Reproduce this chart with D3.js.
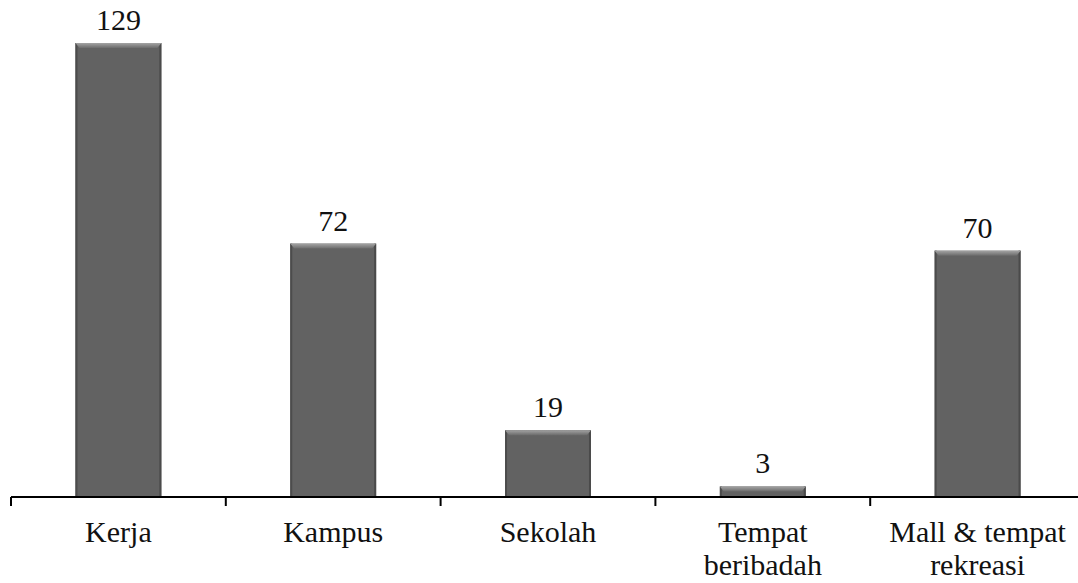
<!DOCTYPE html>
<html>
<head>
<meta charset="utf-8">
<script src="https://cdn.jsdelivr.net/npm/d3@7/dist/d3.min.js"></script>
<style>
  html, body { margin: 0; padding: 0; background: #fff; }
  svg { display: block; }
</style>
</head>
<body>
<svg id="chart" width="1078" height="583"></svg>
<script>
// Places and counts
const categories = ["Kerja", "Kampus", "Sekolah", "Tempat\nberibadah", "Mall & tempat\nrekreasi"];
const values = [129, 72, 19, 3, 70];

const FONT = "'Liberation Serif', 'Times New Roman', Times, serif";
const FONT_SIZE = 30;
const W = 1078;
const axisY = 497;
const svg = d3.select("#chart");

const x = d3.scaleBand()
  .domain(categories)
  .range([11, 1085])
  .paddingInner(0.6)
  .paddingOuter(0.3);

const y = d3.scaleLinear()
  .domain([0, 129])
  .range([axisY, 43]);

// Gradient for the bevelled bar tops
const defs = svg.append("defs");
const topGrad = defs.append("linearGradient")
  .attr("id", "bevelTop").attr("x1", 0).attr("y1", 0).attr("x2", 0).attr("y2", 1);
topGrad.append("stop").attr("offset", "0%").attr("stop-color", "#a4a4a4");
topGrad.append("stop").attr("offset", "100%").attr("stop-color", "#6c6c6c");

const bevel = 5;   // top bevel depth
const side = 2;    // side edge width

const bars = svg.append("g").selectAll("g")
  .data(categories.map((c, i) => ({ c, v: values[i] })))
  .join("g");

bars.append("rect")
  .attr("x", d => x(d.c))
  .attr("y", d => y(d.v))
  .attr("width", x.bandwidth())
  .attr("height", d => axisY - y(d.v))
  .attr("fill", "#626262");

// side edges
bars.append("rect")
  .attr("x", d => x(d.c))
  .attr("y", d => y(d.v))
  .attr("width", side)
  .attr("height", d => axisY - y(d.v))
  .attr("fill", "#4c4c4c");
bars.append("rect")
  .attr("x", d => x(d.c) + x.bandwidth() - side)
  .attr("y", d => y(d.v))
  .attr("width", side)
  .attr("height", d => axisY - y(d.v))
  .attr("fill", "#4a4a4a");

// top bevel
bars.append("path")
  .attr("d", d => {
    const x0 = x(d.c), x1 = x0 + x.bandwidth(), t = y(d.v);
    const b = Math.min(bevel, (axisY - t) / 2);
    return `M${x0},${t}L${x1},${t}L${x1 - side - 2},${t + b}L${x0 + side + 2},${t + b}Z`;
  })
  .attr("fill", "url(#bevelTop)");

// value labels
bars.append("text")
  .attr("x", d => x(d.c) + x.bandwidth() / 2)
  .attr("y", d => y(d.v) - 13)
  .attr("text-anchor", "middle")
  .style("font-family", FONT)
  .style("font-size", FONT_SIZE + "px")
  .attr("fill", "#111")
  .text(d => d.v);

// axis line and boundary ticks
const axis = svg.append("g");
axis.append("line")
  .attr("x1", 11).attr("x2", W)
  .attr("y1", axisY).attr("y2", axisY)
  .attr("stroke", "#000").attr("stroke-width", 2);

const step = x.step();
const bounds = categories.map(c => x(c) - x.paddingOuter() * step);
axis.selectAll("line.tick")
  .data(bounds)
  .join("line")
  .attr("class", "tick")
  .attr("x1", d => d).attr("x2", d => d)
  .attr("y1", axisY).attr("y2", axisY + 9)
  .attr("stroke", "#000").attr("stroke-width", 2);

// category labels
const labels = svg.append("g").selectAll("text")
  .data(categories)
  .join("text")
  .attr("x", d => x(d) + x.bandwidth() / 2)
  .attr("y", 542)
  .attr("text-anchor", "middle")
  .style("font-family", FONT)
  .style("font-size", FONT_SIZE + "px")
  .attr("fill", "#111");

labels.selectAll("tspan")
  .data(d => d.split("\n").map(line => ({ line, cx: x(d) + x.bandwidth() / 2 })))
  .join("tspan")
  .attr("x", d => d.cx)
  .attr("dy", (d, i) => i === 0 ? 0 : 33)
  .text(d => d.line);
</script>
</body>
</html>
